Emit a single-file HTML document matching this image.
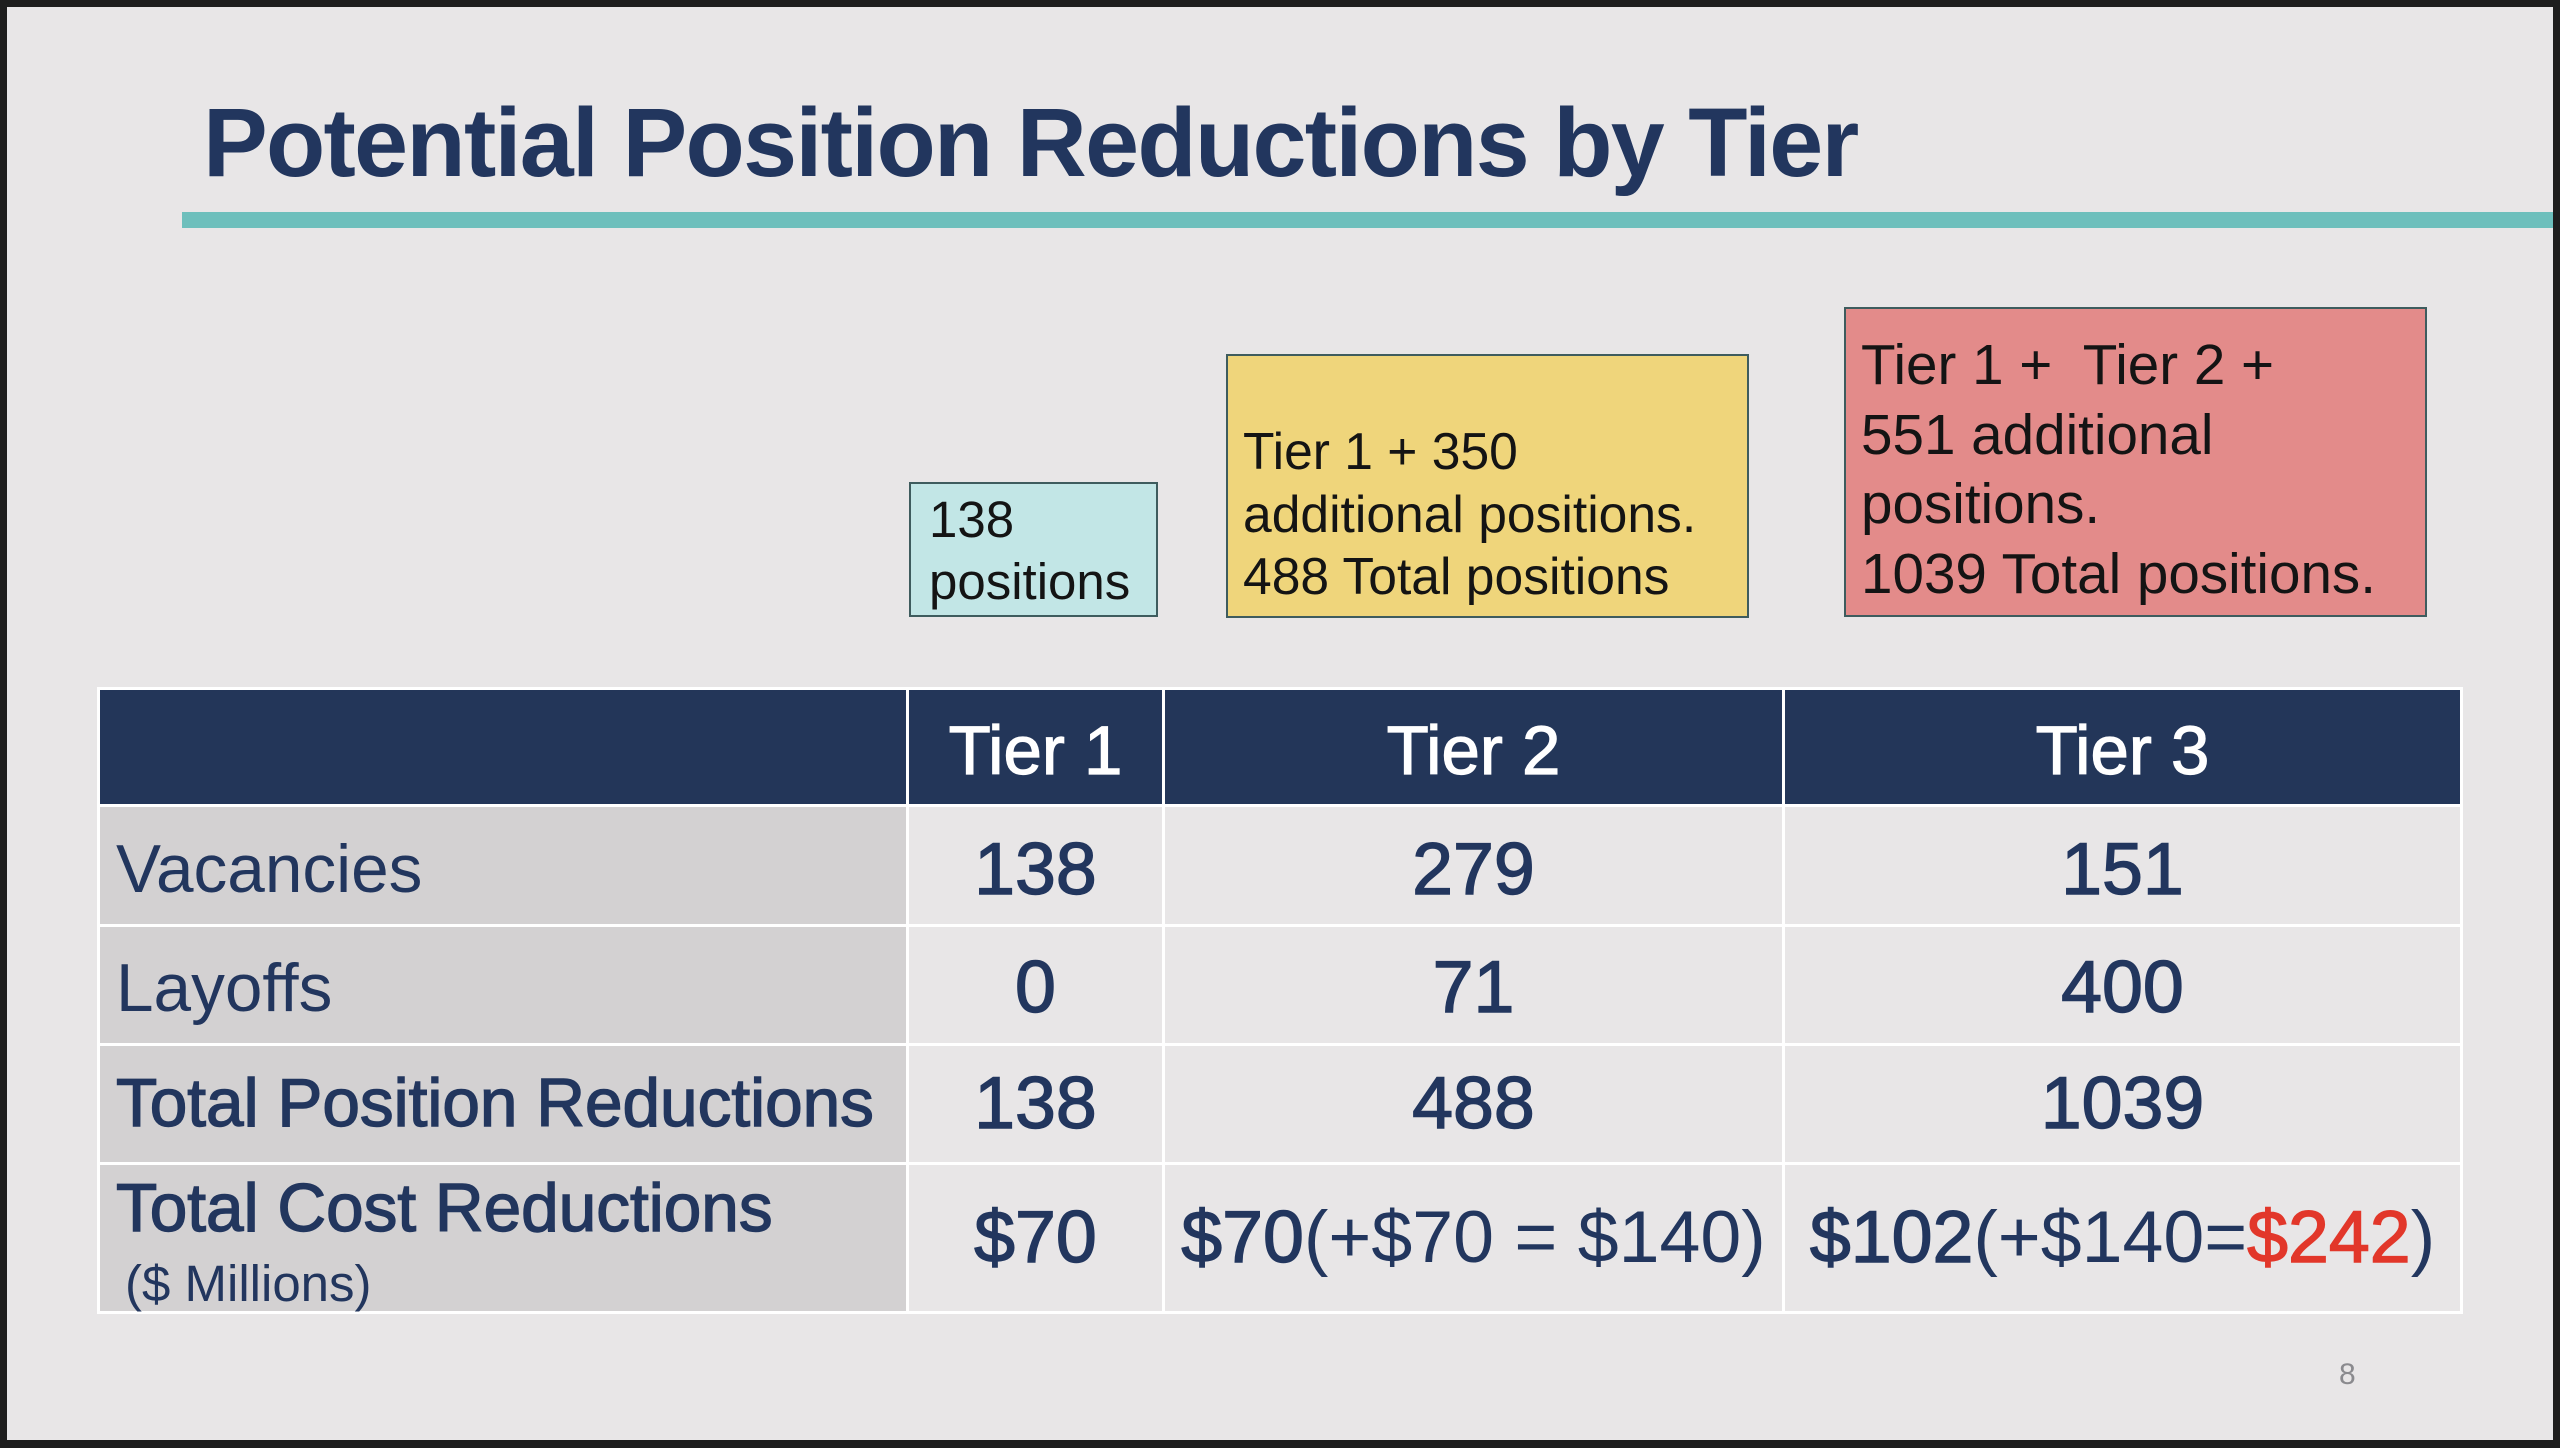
<!DOCTYPE html>
<html>
<head>
<meta charset="utf-8">
<style>
  html,body{margin:0;padding:0;}
  body{width:2560px;height:1448px;position:relative;overflow:hidden;background:#1e1e1e;font-family:"Liberation Sans",Arial,sans-serif;}
  .slide{position:absolute;left:7px;top:7px;width:2546px;height:1433px;background:#e8e6e7;}
  .a{position:absolute;white-space:nowrap;line-height:1;}
  .title{left:203px;top:94px;font-size:97px;font-weight:bold;color:#22365e;letter-spacing:-1.7px;}
  .rule{position:absolute;left:182px;top:212px;width:2371px;height:16px;background:#6dbfbc;}
  .box{position:absolute;box-sizing:border-box;border:2px solid #3e5c5e;}
  .bt{position:absolute;white-space:nowrap;color:#141414;}
  .tbl{position:absolute;left:97px;top:687px;width:2366px;height:627px;background:#ffffff;}
  .c{position:absolute;}
  .hd{background:#233659;}
  .lb{background:#d3d1d2;}
  .bd{background:#e8e6e7;}
  .hdt{color:#ffffff;font-size:69px;-webkit-text-stroke:1.2px #ffffff;text-align:center;}
  .lbl{color:#22365e;font-size:67.5px;left:116px;}
  .med{-webkit-text-stroke:1.4px #22365e;}
  .num{color:#22365e;font-size:73.5px;text-align:center;}
  .red{color:#e2372a;-webkit-text-stroke:1.4px #e2372a;}
</style>
</head>
<body>
<div class="slide"></div>

<div class="a title">Potential Position Reductions by Tier</div>
<div class="rule"></div>

<!-- Box 1 -->
<div class="box" style="left:909px;top:482px;width:249px;height:135px;background:#c2e6e6;"></div>
<div class="bt" style="left:929px;top:489px;font-size:51px;line-height:62px;">138<br>positions</div>

<!-- Box 2 -->
<div class="box" style="left:1226px;top:354px;width:523px;height:264px;background:#efd57b;"></div>
<div class="bt" style="left:1243px;top:420px;font-size:51.6px;line-height:62.5px;">Tier 1 + 350<br>additional positions.<br>488 Total positions</div>

<!-- Box 3 -->
<div class="box" style="left:1844px;top:307px;width:583px;height:310px;background:#e38b8a;"></div>
<div class="bt" style="left:1861px;top:330px;font-size:56.6px;line-height:69.5px;">Tier 1 +&nbsp; Tier 2 +<br>551 additional<br>positions.<br>1039 Total positions.</div>

<!-- Table -->
<div class="tbl"></div>
<!-- header row -->
<div class="c hd" style="left:100px;top:690px;width:806px;height:114px;"></div>
<div class="c hd" style="left:909px;top:690px;width:253px;height:114px;"></div>
<div class="c hd" style="left:1165px;top:690px;width:617px;height:114px;"></div>
<div class="c hd" style="left:1785px;top:690px;width:675px;height:114px;"></div>
<!-- row1 -->
<div class="c lb" style="left:100px;top:807px;width:806px;height:117px;"></div>
<div class="c bd" style="left:909px;top:807px;width:253px;height:117px;"></div>
<div class="c bd" style="left:1165px;top:807px;width:617px;height:117px;"></div>
<div class="c bd" style="left:1785px;top:807px;width:675px;height:117px;"></div>
<!-- row2 -->
<div class="c lb" style="left:100px;top:927px;width:806px;height:116px;"></div>
<div class="c bd" style="left:909px;top:927px;width:253px;height:116px;"></div>
<div class="c bd" style="left:1165px;top:927px;width:617px;height:116px;"></div>
<div class="c bd" style="left:1785px;top:927px;width:675px;height:116px;"></div>
<!-- row3 -->
<div class="c lb" style="left:100px;top:1046px;width:806px;height:116px;"></div>
<div class="c bd" style="left:909px;top:1046px;width:253px;height:116px;"></div>
<div class="c bd" style="left:1165px;top:1046px;width:617px;height:116px;"></div>
<div class="c bd" style="left:1785px;top:1046px;width:675px;height:116px;"></div>
<!-- row4 -->
<div class="c lb" style="left:100px;top:1165px;width:806px;height:146px;"></div>
<div class="c bd" style="left:909px;top:1165px;width:253px;height:146px;"></div>
<div class="c bd" style="left:1165px;top:1165px;width:617px;height:146px;"></div>
<div class="c bd" style="left:1785px;top:1165px;width:675px;height:146px;"></div>

<!-- header text -->
<div class="a hdt" style="left:909px;width:253px;top:716px;">Tier 1</div>
<div class="a hdt" style="left:1165px;width:617px;top:716px;">Tier 2</div>
<div class="a hdt" style="left:1785px;width:675px;top:716px;">Tier 3</div>

<!-- labels -->
<div class="a lbl" style="top:836px;">Vacancies</div>
<div class="a lbl" style="top:955px;">Layoffs</div>
<div class="a lbl med" style="top:1070px;">Total Position Reductions</div>
<div class="a lbl med" style="top:1175px;">Total Cost Reductions</div>
<div class="a" style="left:125px;top:1258px;font-size:51px;color:#22365e;">($ Millions)</div>

<!-- numbers row1 -->
<div class="a num med" style="left:909px;width:253px;top:832px;">138</div>
<div class="a num med" style="left:1165px;width:617px;top:832px;">279</div>
<div class="a num med" style="left:1785px;width:675px;top:832px;">151</div>
<!-- row2 -->
<div class="a num med" style="left:909px;width:253px;top:950px;">0</div>
<div class="a num med" style="left:1165px;width:617px;top:950px;">71</div>
<div class="a num med" style="left:1785px;width:675px;top:950px;">400</div>
<!-- row3 -->
<div class="a num med" style="left:909px;width:253px;top:1066px;">138</div>
<div class="a num med" style="left:1165px;width:617px;top:1066px;">488</div>
<div class="a num med" style="left:1785px;width:675px;top:1066px;">1039</div>
<!-- row4 -->
<div class="a num med" style="left:909px;width:253px;top:1200px;">$70</div>
<div class="a num" style="left:1165px;width:617px;top:1200px;"><span class="med">$70</span>(+$70 = $140)</div>
<div class="a num" style="left:1785px;width:675px;top:1200px;"><span class="med">$102</span>(+$140=<span class="red">$242</span>)</div>

<!-- page number -->
<div class="a" style="left:2339px;top:1360px;font-size:30px;color:#8a8a8e;">8</div>
</body>
</html>
